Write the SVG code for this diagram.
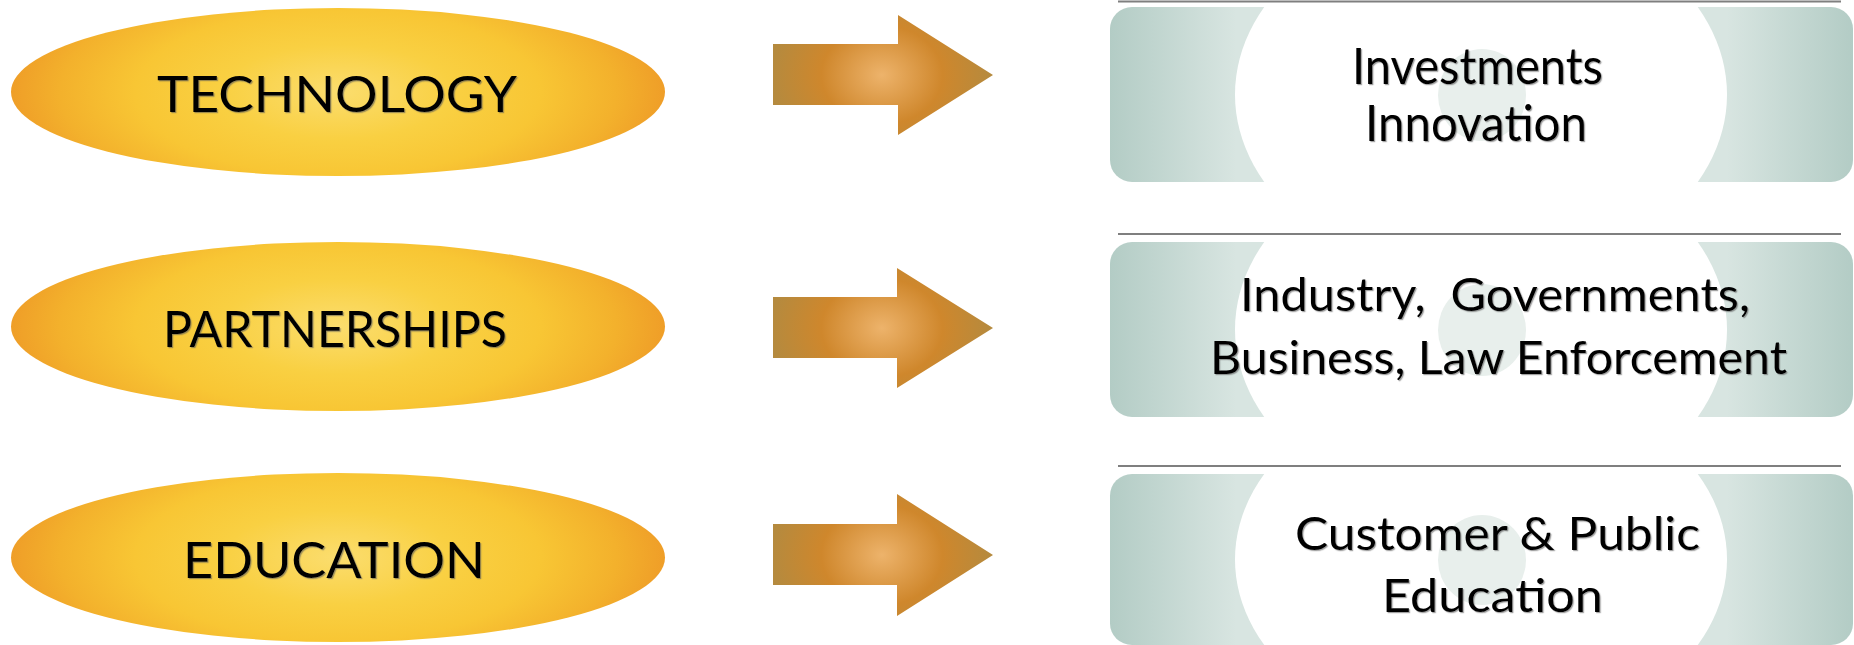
<svg xmlns="http://www.w3.org/2000/svg" width="1854" height="645" viewBox="0 0 1854 645">
<style>
.lbl{font-family:Lato,"Open Sans","Liberation Sans",sans-serif;fill:#000;filter:url(#tshadow);}
.oval{fill:url(#ovalGrad);}
.arrow{fill:url(#arrowGrad);}
.sep{stroke:#7f7f7f;stroke-width:2;fill:none;}
</style>
<defs>
<radialGradient id="ovalGrad" cx="0.5" cy="0.5" r="0.5" gradientTransform="translate(0.5 0.5) scale(1 1.6) translate(-0.5 -0.5)">
<stop offset="0" stop-color="#fbdd6e"/>
<stop offset="0.35" stop-color="#f9d042"/>
<stop offset="0.62" stop-color="#f8c634"/>
<stop offset="0.85" stop-color="#f3b12c"/>
<stop offset="1" stop-color="#ef9e28"/>
</radialGradient>
<radialGradient id="arrowGrad" cx="0.495" cy="0.5" r="0.5" gradientTransform="translate(0.495 0.5) scale(1 1.5) translate(-0.495 -0.5)">
<stop offset="0" stop-color="#edb36b"/>
<stop offset="0.55" stop-color="#cf872c"/>
<stop offset="1" stop-color="#b58a3e"/>
</radialGradient>
<linearGradient id="boxGrad" x1="0" y1="0" x2="1" y2="0">
<stop offset="0" stop-color="#b3ccc5"/>
<stop offset="0.17" stop-color="#d8e5e1"/>
<stop offset="0.83" stop-color="#d8e5e1"/>
<stop offset="1" stop-color="#b3ccc5"/>
</linearGradient>
<clipPath id="boxClip">
<rect x="0" y="0" width="743" height="175" rx="22" ry="22"/>
</clipPath>
<g id="boxShape">
<rect x="0" y="0" width="743" height="175" rx="22" ry="22" fill="url(#boxGrad)"/>
<ellipse cx="371" cy="87.5" rx="246" ry="185" fill="#ffffff" clip-path="url(#boxClip)"/>
<ellipse cx="372" cy="88" rx="44" ry="46" fill="#e8efec"/>
</g>
<filter id="tshadow" x="-5%" y="-20%" width="110%" height="140%">
<feDropShadow dx="1.2" dy="1.2" stdDeviation="0.4" flood-color="#555" flood-opacity="0.55"/>
</filter>
</defs>

<g id="connectors">
<path id="arrow1" class="arrow" d="M773,44 H898 V15 L993,75 L898,135 V105 H773 Z"/>
<path id="arrow2" class="arrow" d="M773,297 H897 V268 L993,328 L897,388 V358 H773 Z"/>
<path id="arrow3" class="arrow" d="M773,524 H897 V494 L993,555 L897,616 V585 H773 Z"/>
</g>

<g id="separators">
<line class="sep" x1="1118" y1="1.5" x2="1841" y2="1.5"/>
<line class="sep" x1="1118" y1="234" x2="1841" y2="234"/>
<line class="sep" x1="1118" y1="466" x2="1841" y2="466"/>
</g>

<g id="technology">
<ellipse class="oval" cx="338" cy="92" rx="327" ry="84"/>
<text class="lbl" x="337" y="112" font-size="51" text-anchor="middle" textLength="360" lengthAdjust="spacingAndGlyphs">TECHNOLOGY</text>
</g>
<g id="partnerships">
<ellipse class="oval" cx="338" cy="326.5" rx="327" ry="84.5"/>
<text class="lbl" x="335" y="347" font-size="51" text-anchor="middle" textLength="344" lengthAdjust="spacingAndGlyphs">PARTNERSHIPS</text>
</g>
<g id="education">
<ellipse class="oval" cx="338" cy="557.5" rx="327" ry="84.5"/>
<text class="lbl" x="334" y="578" font-size="51" text-anchor="middle" textLength="302" lengthAdjust="spacingAndGlyphs">EDUCATION</text>
</g>

<g id="box-investments">
<use href="#boxShape" transform="translate(1110,7)"/>
<text class="lbl" x="1477.5" y="84" font-size="50" text-anchor="middle" textLength="251" lengthAdjust="spacingAndGlyphs">Investments</text>
<text class="lbl" x="1476" y="141" font-size="50" text-anchor="middle" textLength="222" lengthAdjust="spacingAndGlyphs">Innovation</text>
</g>
<g id="box-partners">
<use href="#boxShape" transform="translate(1110,242)"/>
<text class="lbl" x="1495" y="311" font-size="47" text-anchor="middle" textLength="510" lengthAdjust="spacingAndGlyphs" xml:space="preserve">Industry,  Governments,</text>
<text class="lbl" x="1498.5" y="374" font-size="47" text-anchor="middle" textLength="577" lengthAdjust="spacingAndGlyphs">Business, Law Enforcement</text>
</g>
<g id="box-customer">
<use href="#boxShape" transform="translate(1110,474) scale(1,0.977)"/>
<text class="lbl" x="1497.5" y="550" font-size="47" text-anchor="middle" textLength="405" lengthAdjust="spacingAndGlyphs">Customer &amp; Public</text>
<text class="lbl" x="1492.5" y="612" font-size="47" text-anchor="middle" textLength="221" lengthAdjust="spacingAndGlyphs">Education</text>
</g>
</svg>
